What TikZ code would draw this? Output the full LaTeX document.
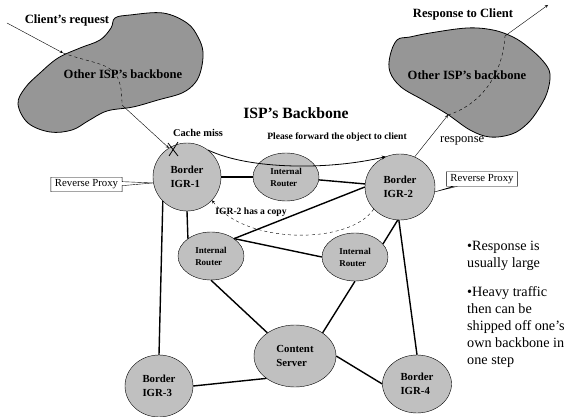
\documentclass[tikz,border=0pt]{standalone}
\usepackage{fontspec}
\setmainfont{Liberation Serif}
\usetikzlibrary{shapes.geometric,shapes.callouts}

\definecolor{cloudgray}{RGB}{150,150,150}
\definecolor{nodegray}{RGB}{192,192,192}

\begin{document}
\begin{tikzpicture}[x=1pt, y=-1pt, >=stealth,
    igr/.style={ellipse, draw, fill=nodegray, inner sep=0pt, align=left, font=\fontsize{10.8}{13.5}\selectfont\bfseries},
    irouter/.style={ellipse, draw, fill=nodegray, inner sep=0pt, minimum width=66pt, minimum height=48pt, align=left, font=\fontsize{9}{12}\selectfont\bfseries},
    link/.style={line width=1.4pt},
    proxy/.style={rectangle callout, draw, fill=white, inner xsep=4pt, inner ysep=2.5pt, callout pointer width=4pt, font=\fontsize{10.8}{12}\selectfont},
    isp/.style={draw, fill=cloudgray, thick, smooth cycle, tension=0.6},
    bigtext/.style={font=\fontsize{12.6}{15}\selectfont\bfseries},
    smalltext/.style={font=\fontsize{9.6}{11}\selectfont\bfseries}]
  \useasboundingbox (0,0) rectangle (568,417);
  % the two other ISPs' backbones
  \draw[isp] plot coordinates {(115,18) (130,15) (163,13) (187,23) (198,37) (203,52) (201,70) (195,83) (182,93) (158,100) (133,107) (107,111) (88,121) (72,130) (50,132) (28,123) (18,104) (25,88) (40,73) (58,58) (80,48) (100,40) (111,28)};
  \draw[isp] plot coordinates {(397,40) (410,37) (430,33) (467,28) (493,30) (513,37) (528,47) (543,61) (550,74) (547,93) (538,110) (527,124) (512,134) (490,137) (470,130) (447,114) (423,100) (401,87) (390,72) (390,56)};
  \node[bigtext] (leftisp) at (123,74) {Other ISP's backbone};
  \node[bigtext] (rightisp) at (467,75) {Other ISP's backbone};
  \node[bigtext] (request) at (67,20) {Client's request};
  \node[bigtext] (toclient) at (463,14) {Response to Client};
  \node[font=\fontsize{15.7}{18}\selectfont\bfseries] (backbone) at (296,113) {ISP's Backbone};

  % routers of the ISP
  \node[igr, minimum width=68pt, minimum height=68pt] (igr1) at (187,177) {Border\\IGR-1};
  \node[igr, minimum width=70pt, minimum height=66pt] (igr2) at (400,187) {Border\\IGR-2};
  \node[igr, minimum width=68pt, minimum height=62pt] (igr3) at (159,386) {Border\\IGR-3};
  \node[igr, minimum width=69pt, minimum height=58pt] (igr4) at (417,384) {Border\\IGR-4};
  \node[irouter] (irtop) at (286,177) {Internal\\Router};
  \node[irouter] (irleft) at (211,256) {Internal\\Router};
  \node[irouter] (irright) at (355,257) {Internal\\Router};
  \node[igr, minimum width=82pt, minimum height=62pt] (server) at (295,356) {Content\\Server};

  \draw[link] (igr1) -- (irtop);
  \draw[link] (irtop) -- (igr2);
  \draw[link] (igr1.south) -- (irleft.143);
  \draw[link] (igr1.225) -- (igr3.north);
  \draw[link] (irleft.37) -- (igr2.west);
  \draw[link] (irleft.37) -- (irright.west);
  \draw[link] (irright.25) -- (igr2.266);
  \draw[link] (igr2.268) -- (igr4.north);
  \draw[link] (irleft.south) -- (server.140);
  \draw[link] (irright.south) -- (server.40);
  \draw[link] (server.218) -- (igr3.east);
  \draw[link] (server.east) -- (igr4.west);

  \node[proxy, callout absolute pointer={(igr1.190)}] (proxy1) at (86.5,184.5) {Reverse Proxy};
  \node[proxy, callout absolute pointer={(igr2.352)}] (proxy2) at (482,179) {Reverse Proxy};

  % the request comes in, misses the cache
  \coordinate (reqstart) at (7,23);
  \coordinate (reqin) at (63,53);
  \coordinate (reqout) at (122,105);
  \draw[->] (reqstart) -- (reqin);
  \draw[dashed] (reqin) .. controls (105,68) and (122,60) .. (reqout);
  \draw[->] (reqout) -- (igr1.122);
  \coordinate (miss) at (173,149);
  \draw[thick] (miss) +(-5,-6) -- +(5,7);
  \draw[thick] (miss) +(5,-7) -- +(-4,7);
  \node[font=\fontsize{10.4}{12}\selectfont\bfseries] (misslabel) at (198,133) {Cache miss};

  % IGR-1 asks IGR-2, which has a copy
  \draw[->, thick] (igr1.52) .. controls (250,170) and (330,170) .. (igr2.115);
  \node[smalltext] (forward) at (337,137) {Please forward the object to client};
  \draw[->, dashed] (igr2.220) .. controls (350,245) and (245,245) .. (igr1.317);
  \node[smalltext] (copy) at (251,212) {IGR-2 has a copy};

  % the response leaves through IGR-2
  \coordinate (respin) at (448,115);
  \coordinate (respout) at (505,36);
  \coordinate (respend) at (548,5);
  \draw[->] (igr2.64) -- (respin);
  \draw[dashed] (respin) .. controls (485,103) and (503,70) .. (respout);
  \draw[->] (respout) -- (respend);
  \node[font=\fontsize{12.6}{15}\selectfont, anchor=west, inner sep=0pt] (resplabel) at (440,141) {response};

  \node[anchor=north west, inner sep=0pt, align=left, font=\fontsize{14.2}{17.2}\selectfont] (notes) at (467,241)
    {\textbullet Response is\\usually large\\[11pt]\textbullet Heavy traffic\\then can be\\shipped off one's\\own backbone in\\one step};
\end{tikzpicture}
\end{document}
